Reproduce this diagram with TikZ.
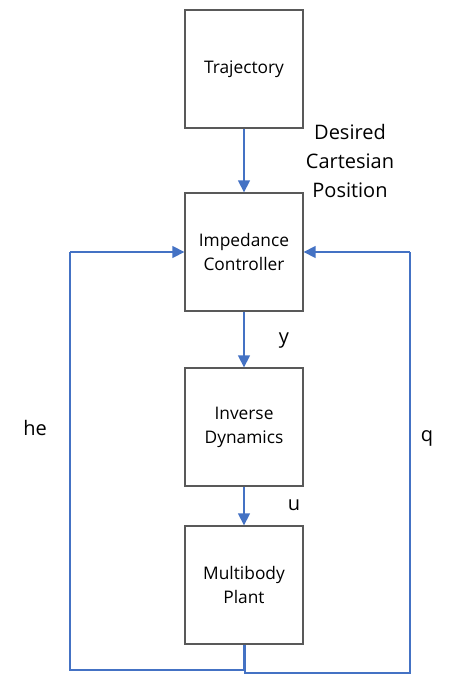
\documentclass[tikz,border=0pt]{standalone}
\usepackage{fontspec}
\setmainfont{Open Sans}
\usetikzlibrary{arrows.meta}
\definecolor{lineblue}{HTML}{4472C4}
\definecolor{boxgray}{HTML}{595959}
\tikzset{
  block/.style={draw=boxgray, line width=1pt, minimum width=88.5pt, minimum height=88.5pt, align=center, font=\fontsize{13}{18}\selectfont},
  flow/.style={draw=lineblue, line width=1.1pt, -{Triangle[length=9pt,width=9pt]}},
  loop/.style={draw=lineblue, line width=1.1pt},
  lbl/.style={font=\fontsize{15}{21.4}\selectfont, align=center}
}
\begin{document}
\begin{tikzpicture}[x=0.75pt,y=-0.75pt]
    \useasboundingbox (0,0) rectangle (455,685);

    \node [block] (traj) at (244,69) {Trajectory};
    \node [block] (imp) at (244,252) {Impedance\\Controller};
    \node [block] (inv) at (244,427) {Inverse\\Dynamics};
    \node [block] (plant) at (244,585) {Multibody\\Plant};

    \node [lbl] (dcp) at (350,161) {Desired\\Cartesian\\Position};
    \node [lbl] (y) at (284,341) {y};
    \node [lbl] (u) at (294,505) {u};
    \node [lbl] (he) at (35,428) {he};
    \node [lbl] (q) at (427,438) {q};

    \coordinate (l1) at (244,670);
    \coordinate (l2) at (70,670);
    \coordinate (l3) at (70,252);
    \coordinate (r1) at (245,673);
    \coordinate (r2) at (410,673);
    \coordinate (r3) at (410,252);

    \draw [flow] (traj) -- (imp);
    \draw [flow] (imp) -- (inv);
    \draw [flow] (inv) -- (plant);
    \draw [loop] (plant.south) -- (l1) -- (l2) -- (l3);
    \draw [flow] (l3) -- (imp.west);
    \draw [loop] (plant.south) ++(1,0) -- (r1) -- (r2) -- (r3);
    \draw [flow] (r3) -- (imp.east);
\end{tikzpicture}
\end{document}
